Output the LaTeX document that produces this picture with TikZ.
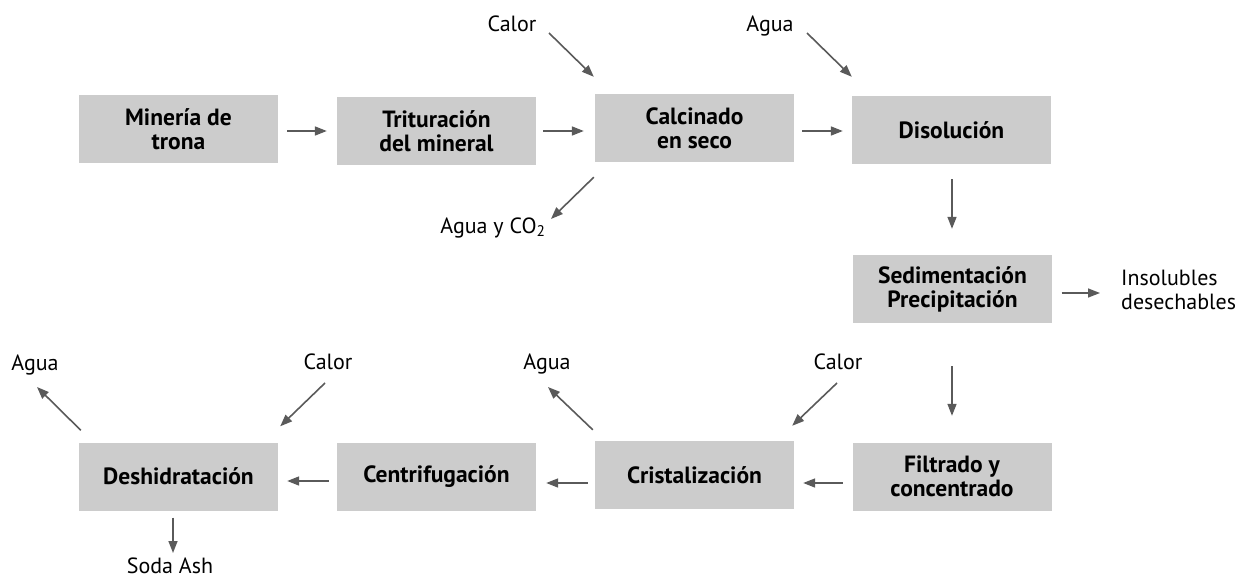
\documentclass[tikz,border=0pt]{standalone}
\usepackage{fontspec}
\setmainfont{PT Sans}
\usetikzlibrary{arrows.meta}
\definecolor{boxgray}{HTML}{CCCCCC}
\definecolor{arrgray}{HTML}{5A5A5A}
\begin{document}
\begin{tikzpicture}[x=1pt,y=-1pt,
  box/.style={fill=boxgray, minimum width=199pt, minimum height=68pt, align=center,
    font=\bfseries\fontsize{23.5}{24}\selectfont, inner sep=0pt},
  lbl/.style={font=\fontsize{22}{24}\selectfont, inner sep=0pt, anchor=base},
  arr/.style={draw=arrgray, line width=1.6pt, -{Triangle[length=12pt,width=9pt]}}]
\useasboundingbox (0,0) rectangle (1237,583);
% process boxes
\node[box] (m)  at (178.5,129)   {Minería de\\trona};
\node[box] (t)  at (436.5,131)   {Trituración\\del mineral};
\node[box] (c)  at (694.5,128.5) {Calcinado\\en seco};
\node[box] (d)  at (951.5,130)   {Disolución};
\node[box] (s)  at (952.5,289)   {Sedimentación\\Precipitación};
\node[box] (f)  at (952,476.5)   {Filtrado y\\concentrado};
\node[box] (cr) at (694.5,475)   {Cristalización};
\node[box] (ce) at (436.5,477)   {Centrifugación};
\node[box] (de) at (178.5,476.5) {Deshidratación};
% labels
\node[lbl] (l1) at (512,32)  {Calor};
\node[lbl] (l2) at (770,32)  {Agua};
\node[lbl] (l3) at (493,233) {Agua y CO\textsubscript{2}};
\node[lbl, align=left, anchor=west] (l4) at (1121,290) {Insolubles\\desechables};
\node[lbl] (l5) at (547,369) {Agua};
\node[lbl] (l6) at (838,369) {Calor};
\node[lbl] (l7) at (328,369) {Calor};
\node[lbl] (l8) at (35,370)  {Agua};
\node[lbl] (l9) at (170,573) {Soda Ash};
% main flow
\draw[arr] ([shift={(9,2)}]m.east) -- ([shift={(-10,0)}]t.west);
\draw[arr] ([shift={(7,0)}]t.east) -- ([shift={(-11,2.5)}]c.west);
\draw[arr] ([shift={(8,2.5)}]c.east) -- ([shift={(-9,1)}]d.west);
\draw[arr] ([shift={(0.5,15)}]d.south) -- ([shift={(-0.5,-26)}]s.north);
\draw[arr] ([shift={(-0.5,43)}]s.south) -- ([shift={(0,-26.5)}]f.north);
\draw[arr] ([shift={(-9.5,6.5)}]f.west) -- ([shift={(9,8)}]cr.east);
\draw[arr] ([shift={(-7,8)}]cr.west) -- ([shift={(10,6)}]ce.east);
\draw[arr] ([shift={(-8,4)}]ce.west) -- ([shift={(9,4.5)}]de.east);
% inputs and outputs
\draw[arr] ([shift={(37,1)}]l1.base) -- ([shift={(-1,-17.5)}]c.north west);
\draw[arr] ([shift={(37,1)}]l2.base) -- ([shift={(0,-19)}]d.north west);
\draw[arr] ([shift={(-1,14.5)}]c.south west) -- ([shift={(58,-14)}]l3.base);
\draw[arr] ([shift={(9.5,4)}]s.east) -- ([shift={(-21,3)}]l4.west);
\draw[arr] ([shift={(-1,14)}]l6.base) -- ([shift={(-2,-15)}]cr.north east);
\draw[arr] ([shift={(-2,-11)}]cr.north west) -- ([shift={(1,18)}]l5.base);
\draw[arr] ([shift={(-3,14)}]l7.base) -- ([shift={(2,-16)}]de.north east);
\draw[arr] ([shift={(2,-12)}]de.north west) -- ([shift={(2,17)}]l8.base);
\draw[arr] ([shift={(-5.5,7)}]de.south) -- ([shift={(3,-20)}]l9.base);
\end{tikzpicture}
\end{document}
